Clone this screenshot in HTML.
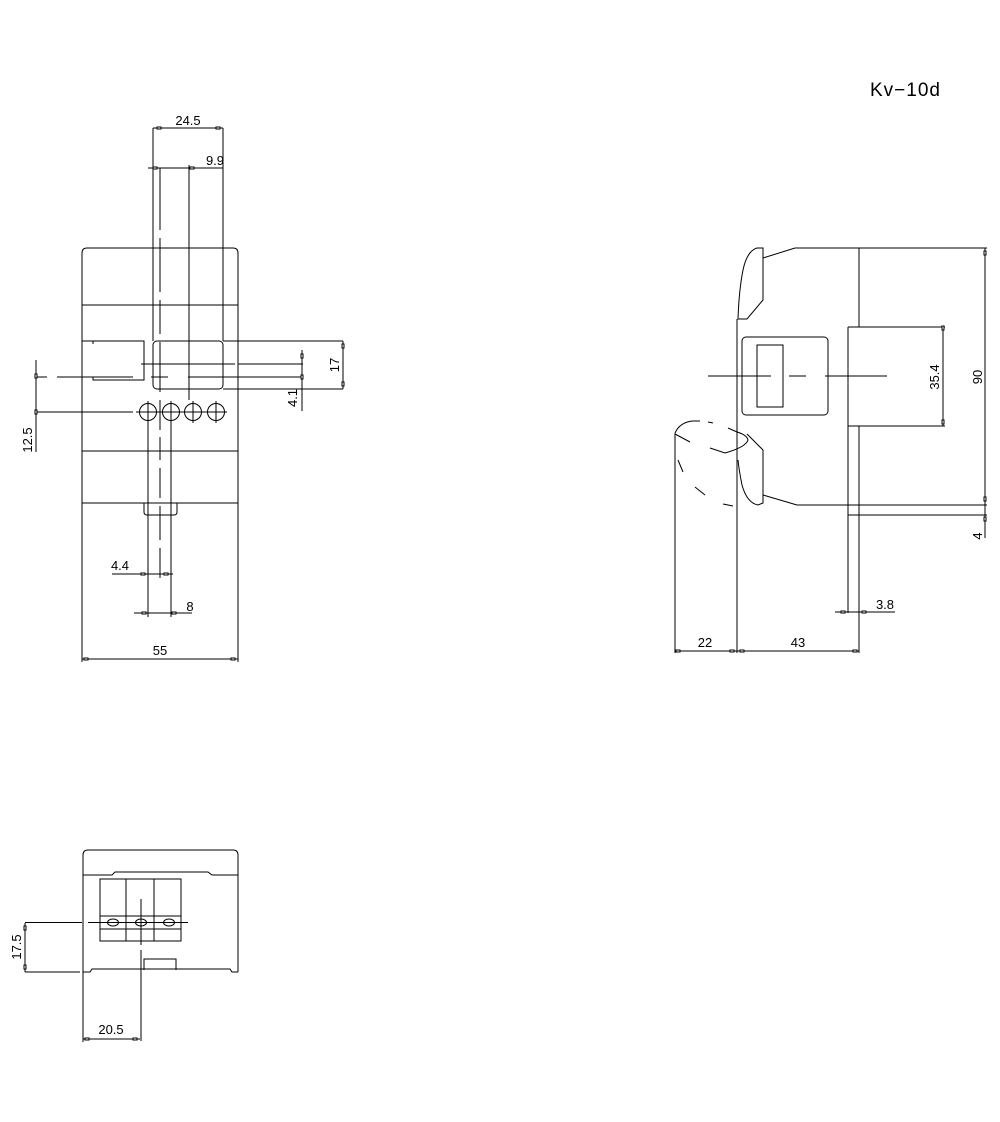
<!DOCTYPE html>
<html><head><meta charset="utf-8"><style>
html,body{margin:0;padding:0;background:#fff;}
svg{display:block;}
text{font-family:"Liberation Sans",sans-serif;font-size:13px;fill:#000;}
</style></head><body>
<svg width="1000" height="1122" viewBox="0 0 1000 1122" xmlns="http://www.w3.org/2000/svg">
<rect width="1000" height="1122" fill="#fff"/>
<g fill="none" stroke="#000" stroke-width="1">
<!-- FRONT VIEW -->
<path d="M82,503 V253 Q82,248 87,248 H233 Q238,248 238,253 V503"/>
<path d="M82,503 H238" />
<path d="M82,305 H238 M82,451 H238"/>
<path d="M82,341 H93 V344 M93,341 H144 V380 H93 V377 H82" />
<path d="M144,503 V512 Q144,515 147,515 H174 Q177,515 177,512 V503"/>
<rect x="153" y="341" width="70" height="48" rx="4"/>
<path d="M141,364 H235 M238,364 H303"/>
<path d="M36,377 H47 M57,377 H92 M93,377 H133 M151,377 H168 M188,377 H303"/>
<path d="M36,412 H133 M136,412 H227"/>
<circle cx="148" cy="412" r="8.5"/><circle cx="171" cy="412" r="8.5"/><circle cx="193" cy="412" r="8.5"/><circle cx="216" cy="412" r="8.5"/>
<path d="M148,401 V423 M171,401 V423 M193,401 V423 M216,401 V423"/>
<path d="M153,128 V341 M223,128 V341"/>
<path d="M189,165 V400"/>
<path d="M160,168 V230 M160,238 V292 M160,300 V334 M160,342 V392 M160,400 V430 M160,437 V460 M160,468 V498 M160,506 V540 M160,548 V578"/>
<path d="M148,420 V617 M171,420 V617"/>
<path d="M223,341 H343 M223,389 H343"/>
<path d="M82,503 V662 M238,503 V662"/>
<!-- dims front -->
<path d="M153,128 H223"/>
<path d="M148,168 H223"/>
<path d="M343,341 V389"/>
<path d="M302,350 V411"/>
<path d="M36,360 V452"/>
<path d="M112,574 H173"/>
<path d="M134,613 H192"/>
<path d="M82,659 H238"/>
<!-- SIDE VIEW -->
<path d="M763,258 L795,248 H859 V327"/>
<path d="M859,248 H987"/>
<path d="M854,327 H859 M848,327 H945 M848,426 H945 M848,327 V426"/>
<path d="M859,426 V653 M848,426 V613"/>
<path d="M943,327 V426 M985,248 V538"/>
<path d="M797,505 H987 M848,515 H987 M848,505 V515 M859,505 V515"/>
<path d="M763,258 V300 L747,319 H738 Q739,290 743,270 Q747,251 757,248 H763 V258"/>
<path d="M737,319 V653"/>
<path d="M747,434 L763,450 V495 L797,505 M763,495 V503 L758,505 Q747,503 742,485 Q739,470 738,460"/>
<rect x="742" y="337" width="86" height="78" rx="4"/>
<rect x="757" y="345" width="26" height="62"/>
<path d="M708,376 H771 M789,376 H806 M825,376 H887"/>
<path d="M675,433 V653"/>
<path d="M675,433 Q680,422 693,421 H700" stroke-dasharray="none"/>
<path d="M708,422 L713,423 M728,428 L737,432 Q747,435 748,440 Q746,447 725,453 L710,448"/>
<path d="M675,434 L690,442 M678,460 L683,472 M695,487 L705,495 M723,504 L733,506"/>
<path d="M675,651 H859"/>
<path d="M835,612 H895"/>
<!-- BOTTOM VIEW -->
<path d="M83,972 V855 Q83,850 88,850 H233 Q238,850 238,855 V972"/>
<path d="M83,972 H90 L92,969 H230 L232,972 H238"/>
<path d="M83,875 H112 L115,872 H208 L212,875 H238"/>
<rect x="100" y="879" width="81" height="62"/>
<path d="M126,879 V941 M154,879 V941 M100,916 H181 M100,929 H181"/>
<ellipse cx="113" cy="922.5" rx="5.5" ry="3.5"/><ellipse cx="141" cy="922.5" rx="5.5" ry="3.5"/><ellipse cx="169" cy="922.5" rx="5.5" ry="3.5"/>
<path d="M25,922.5 H82 M88,922.5 H188"/>
<path d="M141,899 V945 M141,950 V1041"/>
<path d="M144,970 V959 H176 V970"/>
<path d="M25,972 H80"/>
<path d="M25,923 V972"/>
<path d="M83,972 V1042 M83,1039 H140"/>
</g>
<!-- ticks -->
<g fill="#fff" stroke="#000" stroke-width="1">
<rect x="157" y="127" width="4" height="2"/><rect x="216" y="127" width="4" height="2"/>
<rect x="153" y="167" width="4" height="2"/><rect x="190" y="167" width="4" height="2"/>
<rect x="342" y="344" width="2" height="4"/><rect x="342" y="382" width="2" height="4"/>
<rect x="301" y="354" width="2" height="4"/><rect x="301" y="375" width="2" height="4"/>
<rect x="35" y="374" width="2" height="4"/><rect x="35" y="410" width="2" height="4"/>
<rect x="141" y="573" width="4" height="2"/><rect x="164" y="573" width="4" height="2"/>
<rect x="142" y="612" width="4" height="2"/><rect x="172" y="612" width="4" height="2"/>
<rect x="84" y="658" width="4" height="2"/><rect x="231" y="658" width="4" height="2"/>
<rect x="942" y="326" width="2" height="4"/><rect x="942" y="420" width="2" height="4"/>
<rect x="984" y="251" width="2" height="4"/><rect x="984" y="497" width="2" height="4"/>
<rect x="984" y="517" width="2" height="4"/>
<rect x="676" y="650" width="4" height="2"/><rect x="730" y="650" width="4" height="2"/>
<rect x="740" y="650" width="4" height="2"/><rect x="853" y="650" width="4" height="2"/>
<rect x="841" y="611" width="4" height="2"/><rect x="862" y="611" width="4" height="2"/>
<rect x="24" y="926" width="2" height="4"/><rect x="24" y="965" width="2" height="4"/>
<rect x="85" y="1038" width="4" height="2"/><rect x="133" y="1038" width="4" height="2"/>
</g>
<g>
<text x="870" y="96" style="font-size:19px;letter-spacing:1px">Kv−10d</text>
<text x="188" y="125" text-anchor="middle">24.5</text>
<text x="215" y="165" text-anchor="middle">9.9</text>
<text x="120" y="570" text-anchor="middle">4.4</text>
<text x="190" y="611" text-anchor="middle">8</text>
<text x="160" y="655" text-anchor="middle">55</text>
<text transform="translate(339,365) rotate(-90)" text-anchor="middle">17</text>
<text transform="translate(297,398) rotate(-90)" text-anchor="middle">4.1</text>
<text transform="translate(32,440) rotate(-90)" text-anchor="middle">12.5</text>
<text transform="translate(939,377) rotate(-90)" text-anchor="middle">35.4</text>
<text transform="translate(982,377) rotate(-90)" text-anchor="middle">90</text>
<text transform="translate(982,536) rotate(-90)" text-anchor="middle">4</text>
<text x="705" y="647" text-anchor="middle">22</text>
<text x="798" y="647" text-anchor="middle">43</text>
<text x="885" y="609" text-anchor="middle">3.8</text>
<text transform="translate(21,947) rotate(-90)" text-anchor="middle">17.5</text>
<text x="111" y="1034" text-anchor="middle">20.5</text>
</g>
</svg>
</body></html>
